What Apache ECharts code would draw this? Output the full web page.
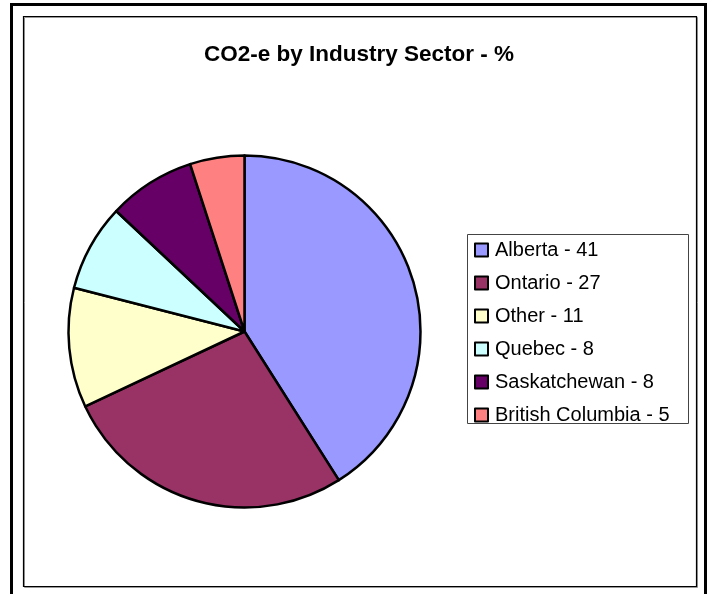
<!DOCTYPE html>
<html>
<head>
<meta charset="utf-8">
<style>
  html, body { margin: 0; padding: 0; background: #fff; }
  #chart { width: 708px; height: 594px; }
</style>
<script src="https://cdn.jsdelivr.net/npm/echarts@6/dist/echarts.min.js"></script>
</head>
<body>
<div id="chart"></div>
<script>
  // data
  var regions = ['Alberta', 'Ontario', 'Other', 'Quebec', 'Saskatchewan', 'British Columbia'];
  var shares = [41, 27, 11, 8, 8, 5];
  var colors = ['#9999FF', '#993366', '#FFFFCC', '#CCFFFF', '#660066', '#FF8080'];

  var chart = echarts.init(document.getElementById('chart'));
  var font = '"Liberation Sans", Arial, Helvetica, sans-serif';

  var pieData = [];
  for (var i = 0; i < regions.length; i++) {
    pieData.push({
      name: regions[i] + ' - ' + shares[i],
      value: shares[i],
      itemStyle: { color: colors[i] }
    });
  }

  var option = {
    animation: false,
    title: {
      text: 'CO2-e by Industry Sector - %',
      left: 354,
      top: 38,
      textAlign: 'center',
      textStyle: { fontFamily: font, fontSize: 22.5, fontWeight: 'bold', color: '#000' }
    },
    legend: {
      orient: 'vertical',
      left: 474,
      top: 240,
      padding: 0,
      itemWidth: 13,
      itemHeight: 13,
      itemGap: 13,
      icon: 'rect',
      selectedMode: false,
      itemStyle: { borderColor: '#000', borderWidth: 2 },
      textStyle: { fontFamily: font, fontSize: 20, lineHeight: 20, color: '#000', padding: [0, 0, 0, 2] }
    },
    graphic: [
      // outer frame
      { type: 'rect', shape: { x: 11.5, y: 4.5, width: 694, height: 620 },
        style: { fill: 'none', stroke: '#000', lineWidth: 3 }, silent: true },
      // plot area frame with shadow
      { type: 'rect', shape: { x: 24.5, y: 17.5, width: 673, height: 570 },
        style: { fill: 'none', stroke: '#999', lineWidth: 1 }, silent: true },
      { type: 'rect', shape: { x: 23.5, y: 16.5, width: 673, height: 570 },
        style: { fill: 'none', stroke: '#000', lineWidth: 1.2 }, silent: true },
      // legend box
      { type: 'rect', shape: { x: 467.5, y: 234.5, width: 221, height: 189 },
        style: { fill: 'none', stroke: '#444', lineWidth: 1 }, silent: true }
    ],
    series: [{
      type: 'pie',
      center: [244.5, 331.5],
      radius: 176,
      startAngle: 90,
      clockwise: true,
      label: { show: false },
      labelLine: { show: false },
      emphasis: { disabled: true },
      itemStyle: { borderColor: '#000', borderWidth: 2.5 },
      data: pieData
    }]
  };

  chart.setOption(option);
</script>
</body>
</html>
